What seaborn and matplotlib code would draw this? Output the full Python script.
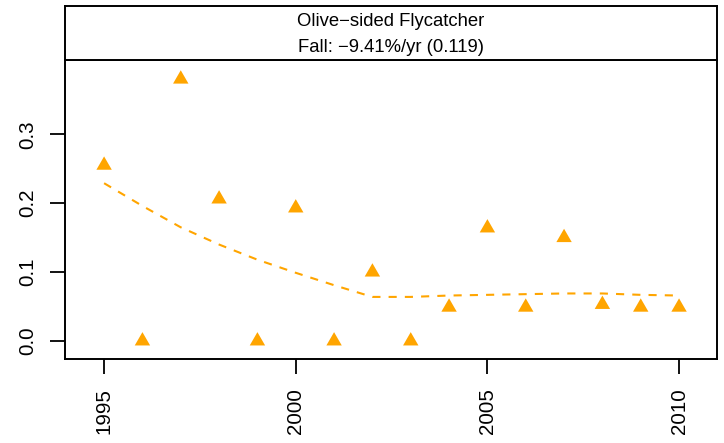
import numpy as np
import pandas as pd
import matplotlib
matplotlib.use("Agg")
import matplotlib.pyplot as plt
from matplotlib.markers import MarkerStyle
import seaborn as sns

# Yearly index values and smoothed trend
years = [1995, 1996, 1997, 1998, 1999, 2000, 2001, 2002,
         2003, 2004, 2005, 2006, 2007, 2008, 2009, 2010]
counts = [0.255, 0.0, 0.380, 0.206, 0.0, 0.193, 0.0, 0.100,
          0.0, 0.049, 0.164, 0.049, 0.150, 0.053, 0.049, 0.049]
trend = [0.229, 0.196, 0.165, 0.140, 0.118, 0.099, 0.081, 0.064,
         0.064, 0.066, 0.067, 0.068, 0.069, 0.069, 0.067, 0.066]

species = "Olive\u2212sided Flycatcher"
subtitle = "Fall: \u22129.41%/yr (0.119)"
x_ticks = [1995, 2000, 2005, 2010]
y_ticks = [0.0, 0.1, 0.2, 0.3]
y_tick_labels = ["0.0", "0.1", "0.2", "0.3"]

df = pd.DataFrame({"year": years, "count": counts, "trend": trend})

sns.set_theme(style="ticks")
plt.rcParams["font.family"] = ["Liberation Sans", "DejaVu Sans"]

orange = "#FFA500"
W, H = 724, 443
fig = plt.figure(figsize=(W / 100, H / 100), dpi=100)

def frac_box(x0, y0, x1, y1):
    return [x0 / W, 1 - y1 / H, (x1 - x0) / W, (y1 - y0) / H]

ax = fig.add_axes(frac_box(65, 60, 717, 359))
strip = fig.add_axes(frac_box(65, 6, 717, 60))

# equilateral triangle centred on its centroid
tri = MarkerStyle([(0, 1), (-0.866, -0.5), (0.866, -0.5), (0, 1)])

sns.lineplot(data=df, x="year", y="trend", ax=ax, color=orange,
             linewidth=1.5, dashes=False, linestyle=(0, (3.9, 3.9)))
sns.scatterplot(data=df, x="year", y="count", ax=ax, color=orange,
                marker=tri, s=164, linewidth=0, edgecolor="none", zorder=3)

ax.set_xlim(1993.98, 2010.99)
ax.set_ylim(-0.0261, 0.4078)
ax.set_xticks(x_ticks)
ax.set_xticklabels([str(t) for t in x_ticks], rotation=90, va="top", ha="center")
ax.set_yticks(y_ticks)
ax.set_yticklabels(y_tick_labels, rotation=90, va="center", ha="right")
ax.set_xlabel("")
ax.set_ylabel("")
ax.tick_params(axis="both", length=10.8, width=1.3, colors="black",
               labelsize=14.8, direction="out")
ax.tick_params(axis="x", pad=10.5)
ax.tick_params(axis="y", pad=9)
for sp in ax.spines.values():
    sp.set_visible(True)
    sp.set_color("black")
    sp.set_linewidth(1.4)

strip.set_xticks([])
strip.set_yticks([])
for sp in strip.spines.values():
    sp.set_visible(True)
    sp.set_color("black")
    sp.set_linewidth(1.4)
strip.set_xlim(0, 1)
strip.set_ylim(0, 1)
strip.text(0.5, 0.71, species, ha="center", va="center", fontsize=13.3, color="black")
strip.text(0.5, 0.24, subtitle, ha="center", va="center", fontsize=13.3, color="black")

fig.savefig("out.png", dpi=100)
